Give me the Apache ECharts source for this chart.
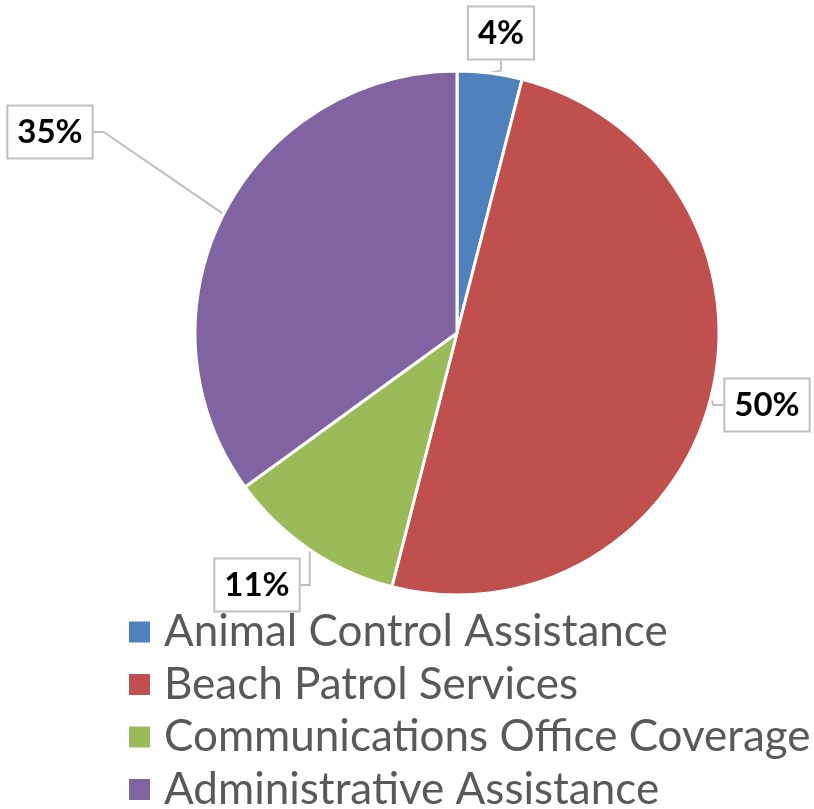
<!DOCTYPE html>
<html><head><meta charset="utf-8">
<script src="https://cdn.jsdelivr.net/npm/echarts@6/dist/echarts.min.js"></script>
<style>html,body{margin:0;padding:0;background:#fff}#c{width:814px;height:809px}</style>
</head><body><div id="c"></div>
<script>
var categories = ["Animal Control Assistance","Beach Patrol Services","Communications Office Coverage","Administrative Assistance"];
var values = [4, 50, 11, 35];
var colors = ["#4F81BD","#C0504D","#9BBB59","#8064A2"];
var labelSpots = [[501,33],[767,405],[257,585],[50,132]];

var chart = echarts.init(document.getElementById('c'));
chart.setOption({
  animation: false,
  color: colors,
  legend: {
    orient: 'vertical', left: 127, top: 610, height: 230, width: 700, padding: 0,
    icon: 'rect', itemWidth: 23, itemHeight: 23, itemGap: 8.5,
    textStyle: {fontFamily: 'Lato', fontSize: 44, color: '#595959', padding: [0,0,0,8]},
    data: categories
  },
  series: [{
    type: 'pie', left: 0, top: 0, right: -300, bottom: 0,
    center: [457, 333], radius: 262, startAngle: 90, clockwise: true,
    itemStyle: {borderColor: '#fff', borderWidth: 3},
    data: categories.map(function(n,i){return {name:n, value: values[i]};}),
    label: {
      show: true, formatter: function(p){return Math.round(p.percent)+'%';},
      fontFamily: 'Lato', fontWeight: 'bold', fontSize: 33, color: '#000',
      backgroundColor: '#fff', borderColor: '#BFBFBF', borderWidth: 2,
      padding: [10, 9, 8, 9], overflow: 'none'
    },
    labelLine: {show: true, length: 10, length2: 10, lineStyle: {color: '#BFBFBF', width: 2}},
    labelLayout: function(p){
      var s = labelSpots[p.dataIndex];
      return {x: s[0], y: s[1], align: 'center', verticalAlign: 'middle'};
    }
  }]
});
</script></body></html>
